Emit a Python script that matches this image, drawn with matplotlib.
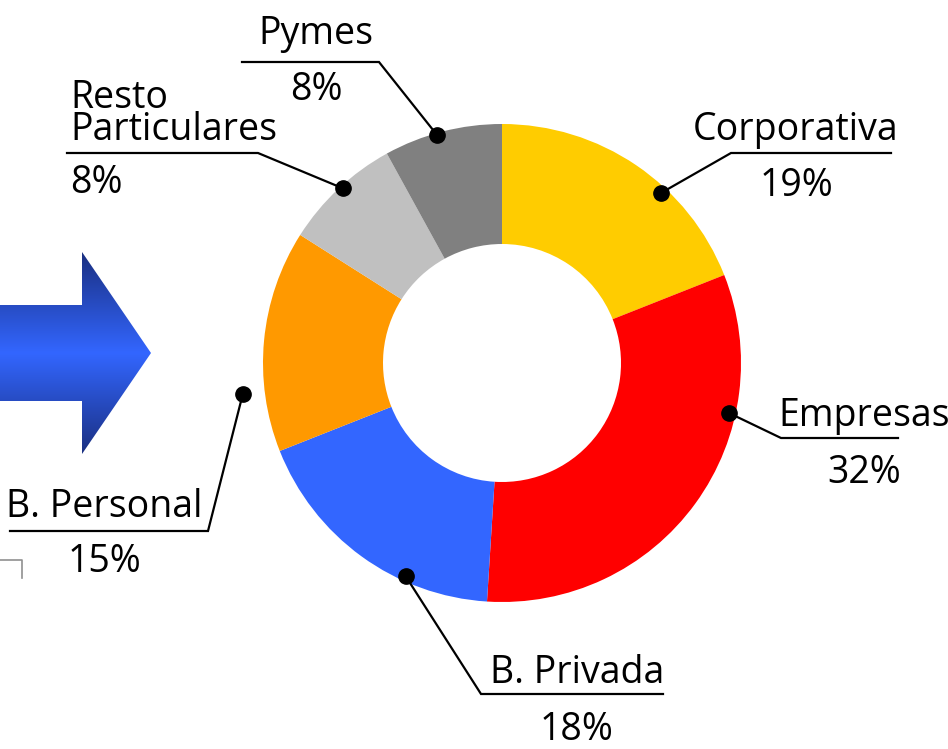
import matplotlib

matplotlib.use("Agg")
import matplotlib.pyplot as plt
import numpy as np
from matplotlib.colors import LinearSegmentedColormap
from matplotlib.patches import Polygon

# data
labels = ["Corporativa", "Empresas", "B. Privada", "B. Personal", "Resto\nParticulares", "Pymes"]
shares = [19, 32, 18, 15, 8, 8]
colors = ["#FFCC00", "#FF0000", "#3366FF", "#FF9900", "#C0C0C0", "#808080"]

# layout (pixel coords, y downwards)
W, H = 948, 749
cx, cy = 502, 363
r_out, r_in = 239, 119

# leader dot: angle clockwise from top, radius
dot_ang = [43.1, 102.4, 204.3, 263.2, 317.7, 344.1]
dot_rad = [233, 232, 234, 261, 236, 237]
# elbow point (also underline y), underline other end
elbow = [(731, 153), (781, 438), (481, 694), (208, 531), (258, 153), (379, 62)]
line_end = [891, 898, 663, 10, 67, 242]
text_x = [796, 864, 577, 104, 70, 316]
name_base = [140, 426, 683, 517, 140, 44]  # baseline of last line
pct_base = [196, 483, 740, 572, 193, 100]
text_ha = ["center", "center", "center", "center", "left", "center"]

FONT = "Open Sans"
FS = 27

fig = plt.figure(figsize=(W / 100, H / 100), dpi=100)
ax = fig.add_axes([0, 0, 1, 1])

# y axis inverted -> counterclock in data reads clockwise on screen
ax.pie(
    shares,
    colors=colors,
    startangle=-90,
    counterclock=True,
    center=(cx, cy),
    radius=r_out,
    wedgeprops={"width": r_out - r_in, "linewidth": 0},
)
ax.set_xlim(0, W)
ax.set_ylim(H, 0)
ax.set_aspect("auto")
ax.axis("off")

# gradient arrow on the left
arrow_pts = [(0, 305), (82, 305), (82, 252), (151, 353), (82, 454), (82, 401), (0, 401)]
arrow = Polygon(arrow_pts, closed=True, facecolor="none", edgecolor="none")
ax.add_patch(arrow)
cmap = LinearSegmentedColormap.from_list("arr", ["#1A2F80", "#3366FF", "#1A2F80"])
grad = np.linspace(0, 1, 256).reshape(-1, 1)
img = ax.imshow(grad, cmap=cmap, extent=(0, 152, 455, 251), aspect="auto", interpolation="bilinear")
img.set_clip_path(arrow)

# small corner mark
ax.plot([0, 22, 22], [560, 560, 578], color="#909090", lw=1.2)

for i, lab in enumerate(labels):
    th = np.radians(dot_ang[i])
    dx = cx + dot_rad[i] * np.sin(th)
    dy = cy - dot_rad[i] * np.cos(th)
    ex, ey = elbow[i]
    ax.plot([dx, ex, line_end[i]], [dy, ey, ey], color="black", lw=1.6, solid_joinstyle="miter")
    ax.plot(dx, dy, "o", color="black", ms=11)
    ax.text(text_x[i], name_base[i], lab, ha=text_ha[i], va="baseline", ma=text_ha[i],
            fontsize=FS, family=FONT, linespacing=0.8)
    ax.text(text_x[i], pct_base[i], f"{shares[i]}%", ha=text_ha[i], va="baseline",
            fontsize=FS, family=FONT)

fig.savefig("out.png", dpi=100)
